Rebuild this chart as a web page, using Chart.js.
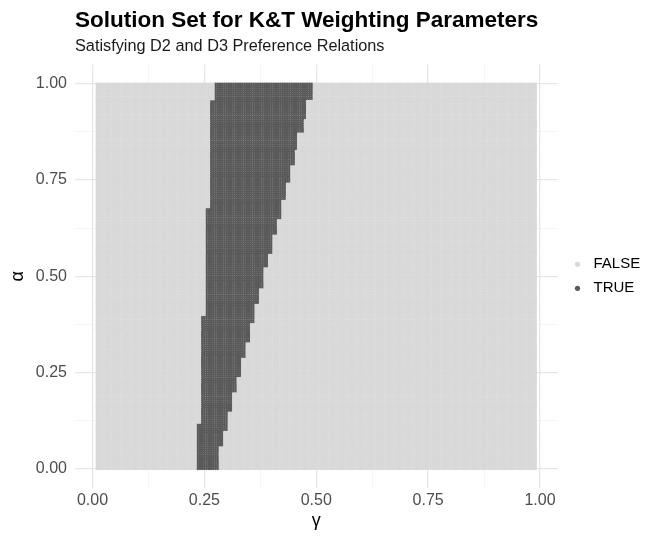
<!DOCTYPE html>
<html>
<head>
<meta charset="utf-8">
<script src="https://cdn.jsdelivr.net/npm/chart.js@4.4.1/dist/chart.umd.min.js"></script>
<style>
  html, body { margin: 0; padding: 0; background: #fff; }
</style>
</head>
<body>
<canvas id="chart" width="668" height="537"></canvas>
<script>
// parameter grid (gamma on x, alpha on y)
const gammaFrom = 0.01;
const gammaTo = 0.99;
const alphaFrom = 0;
const alphaTo = 1;
const gridStep = 0.005;

// TRUE region (alpha = band start, going up)
const rightBandAlpha = [0, 0.058, 0.097, 0.149, 0.198, 0.239, 0.288, 0.329, 0.379, 0.429, 0.470,
                        0.522, 0.560, 0.609, 0.649, 0.698, 0.743, 0.789, 0.828, 0.873, 0.907, 0.957];
const rightBandGamma = [0.281, 0.291, 0.301, 0.311, 0.322, 0.331, 0.341, 0.350, 0.361, 0.371, 0.380,
                        0.391, 0.400, 0.410, 0.421, 0.430, 0.440, 0.450, 0.459, 0.470, 0.479, 0.490];
const leftBandAlpha = [0, 0.119, 0.398, 0.678, 0.957];
const leftBandGamma = [0.233, 0.2425, 0.252, 0.261, 0.2715];

const tickValues = [0, 0.125, 0.25, 0.375, 0.5, 0.625, 0.75, 0.875, 1];
const tickLabels = ["0.00", "", "0.25", "", "0.50", "", "0.75", "", "1.00"];

const legendLabels = ["FALSE", "TRUE"];
const pointColors = ["#d8d8d8", "#5a5a5a"];

const FONT = '"Liberation Sans", Arial, Helvetica, sans-serif';

const bandValue = (a, starts, values) => {
    let v = values[0];
    for (let i = 0; i < starts.length; i++) {
        if (a >= starts[i]) v = values[i];
    }
    return v;
};

const pointsFalse = [];
const pointsTrue = [];
const nGamma = Math.round((gammaTo - gammaFrom) / gridStep);
const nAlpha = Math.round((alphaTo - alphaFrom) / gridStep);
for (let j = 0; j <= nAlpha; j++) {
    const a = +(alphaFrom + j * gridStep).toFixed(4);
    const left = bandValue(a, leftBandAlpha, leftBandGamma);
    const right = bandValue(a, rightBandAlpha, rightBandGamma);
    for (let i = 0; i <= nGamma; i++) {
        const g = +(gammaFrom + i * gridStep).toFixed(4);
        if (g >= left && g <= right) pointsTrue.push({ x: g, y: a });
        else pointsFalse.push({ x: g, y: a });
    }
}

// legend on the right, ggplot style
const sideLegend = {
    id: "sideLegend",
    afterDraw(chart) {
        const { ctx, chartArea } = chart;
        const midY = (chartArea.top + chartArea.bottom) / 2;
        ctx.save();
        ctx.font = "15px " + FONT;
        ctx.textBaseline = "middle";
        legendLabels.forEach((label, i) => {
            const y = midY - 12 + i * 24;
            ctx.fillStyle = pointColors[i];
            ctx.beginPath();
            ctx.arc(chartArea.right + 20, y, 2.6, 0, Math.PI * 2);
            ctx.fill();
            ctx.fillStyle = "#000";
            ctx.fillText(label, chartArea.right + 36, y);
        });
        ctx.restore();
    }
};

const isMajor = ctx => tickLabels[ctx.index] !== "";

const axisGrid = {
    drawTicks: false,
    color: ctx => isMajor(ctx) ? "#e6e6e6" : "#f1f1f1",
    lineWidth: ctx => isMajor(ctx) ? 1.3 : 0.7
};

const setTicks = axis => {
    axis.ticks = tickValues.map(v => ({ value: v }));
};

new Chart(document.getElementById("chart"), {
    type: "scatter",
    data: {
        datasets: [
            {
                label: legendLabels[0],
                data: pointsFalse,
                backgroundColor: pointColors[0],
                pointRadius: 1.4,
                borderWidth: 0
            },
            {
                label: legendLabels[1],
                data: pointsTrue,
                backgroundColor: pointColors[1],
                pointRadius: 1.4,
                borderWidth: 0
            }
        ]
    },
    options: {
        responsive: false,
        animation: false,
        events: [],
        parsing: false,
        normalized: true,
        layout: { padding: { left: 0, right: 110.5, top: 0, bottom: 0 } },
        scales: {
            x: {
                type: "linear",
                min: -0.039,
                max: 1.039,
                afterBuildTicks: setTicks,
                afterFit: axis => { axis.height = 49; },
                grid: axisGrid,
                border: { display: false },
                ticks: {
                    autoSkip: false,
                    maxRotation: 0,
                    padding: 3,
                    color: "#4d4d4d",
                    font: { family: FONT, size: 16 },
                    callback: (v, i) => tickLabels[i]
                },
                title: {
                    display: true,
                    text: "γ",
                    color: "#000",
                    font: { family: FONT, size: 18 },
                    padding: { top: 0, bottom: 5 }
                }
            },
            y: {
                type: "linear",
                min: -0.05,
                max: 1.05,
                afterBuildTicks: setTicks,
                afterFit: axis => { axis.width = 75; },
                grid: axisGrid,
                border: { display: false },
                ticks: {
                    autoSkip: false,
                    padding: 8,
                    color: "#4d4d4d",
                    font: { family: FONT, size: 16 },
                    callback: (v, i) => tickLabels[i]
                },
                title: {
                    display: true,
                    text: "α",
                    color: "#000",
                    font: { family: FONT, size: 18 },
                    padding: { top: 7, bottom: 0 }
                }
            }
        },
        plugins: {
            legend: { display: false },
            tooltip: { enabled: false },
            title: {
                display: true,
                text: "Solution Set for K&T Weighting Parameters",
                align: "start",
                fullSize: false,
                color: "#000",
                font: { family: FONT, size: 22.5, weight: "bold" },
                padding: { top: 7, bottom: 2 }
            },
            subtitle: {
                display: true,
                text: "Satisfying D2 and D3 Preference Relations",
                align: "start",
                fullSize: false,
                color: "#1a1a1a",
                font: { family: FONT, size: 16.3 },
                padding: { top: 0.8, bottom: 8.2 }
            }
        }
    },
    plugins: [sideLegend]
});
</script>
</body>
</html>
